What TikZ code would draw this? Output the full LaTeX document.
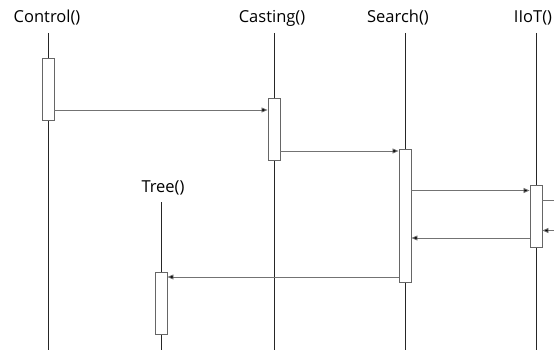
\documentclass[tikz,border=0pt]{standalone}
\usepackage{fontspec}
\setmainfont{Open Sans}
\usetikzlibrary{arrows.meta}
\begin{document}
\begin{tikzpicture}[x=1pt,y=-1pt,
  lifeline/.style={draw=black!85,line width=0.8pt},
  actbox/.style={draw=black!60,fill=white,line width=0.9pt,minimum width=12pt,inner sep=0pt},
  msg/.style={draw=black!55,line width=0.8pt,-{Triangle[length=6pt,width=5pt,fill=black]}},
  msgout/.style={draw=black!55,line width=0.8pt},
  objlabel/.style={font=\fontsize{16.5}{19}\selectfont,inner sep=0pt,anchor=base}]
\useasboundingbox (0,0) rectangle (554,350);

% object headings
\node[objlabel] (lcontrol) at (47,23) {Control()};
\node[objlabel] (lcasting) at (272,23) {Casting()};
\node[objlabel] (lsearch) at (398,23) {Search()};
\node[objlabel] (liiot) at (533,23) {IIoT()};
\node[objlabel] (ltree) at (163,192) {Tree()};

% lifelines
\coordinate (tcontrol) at (48,33);  \coordinate (bcontrol) at (48,350);
\coordinate (tcasting) at (274,33); \coordinate (bcasting) at (274,350);
\coordinate (tsearch) at (405,33);  \coordinate (bsearch) at (405,350);
\coordinate (tiiot) at (536,33);    \coordinate (biiot) at (536,350);
\coordinate (ttree) at (161,202);   \coordinate (btree) at (161,350);
\draw[lifeline] (tcontrol) -- (bcontrol);
\draw[lifeline] (tcasting) -- (bcasting);
\draw[lifeline] (tsearch) -- (bsearch);
\draw[lifeline] (tiiot) -- (biiot);
\draw[lifeline] (ttree) -- (btree);

% activation bars
\node[actbox,minimum height=62pt] (acontrol) at (48,89) {};
\node[actbox,minimum height=62pt] (acasting) at (274,129) {};
\node[actbox,minimum height=133pt] (asearch) at (405,215.5) {};
\node[actbox,minimum height=62pt] (aiiot) at (536,216.5) {};
\node[actbox,minimum height=62pt] (atree) at (161,303.5) {};

% messages
\draw[msg] (acontrol.east |- 0,110) -- (acasting.west |- 0,110);
\draw[msg] (acasting.east |- 0,151) -- (asearch.west |- 0,151);
\draw[msg] (asearch.east |- 0,190.5) -- (aiiot.west |- 0,190.5);
\coordinate (rout) at (554,200);
\coordinate (rin) at (554,230.5);
\draw[msgout] (aiiot.east |- rout) -- (rout);
\draw[msg] (rin) -- (aiiot.east |- rin);
\draw[msg] (aiiot.west |- 0,238) -- (asearch.east |- 0,238);
\draw[msg] (asearch.west |- 0,277) -- (atree.east |- 0,277);
\end{tikzpicture}
\end{document}
